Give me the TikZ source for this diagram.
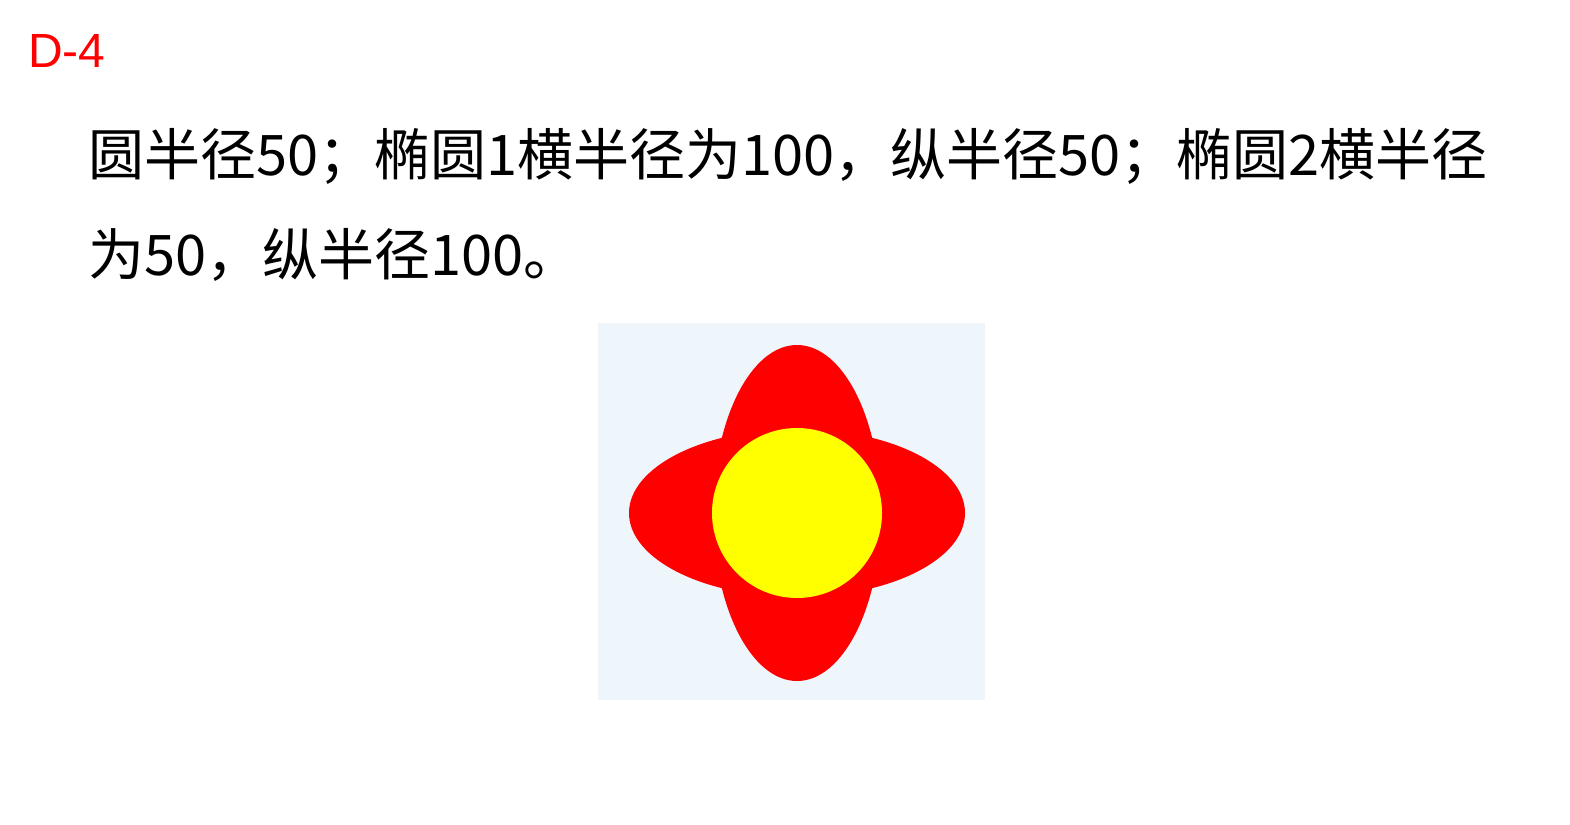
\documentclass[tikz,border=0pt]{standalone}
\usepackage{fontspec}
\usepackage{xcolor}
\usepackage{tikz}
\usetikzlibrary{positioning}
\setmainfont{Liberation Sans}
\newfontfamily\cjkfont{Noto Sans CJK SC}
\definecolor{boxblue}{RGB}{238,245,251}
\definecolor{petalred}{RGB}{255,0,0}
\definecolor{coreyellow}{RGB}{255,255,0}

\begin{document}
\begin{tikzpicture}[x=1pt, y=-1pt]
    \tikzstyle{tag} = [inner sep=0pt, anchor=base west, text=red, font=\fontsize{48}{52}\selectfont]
    \tikzstyle{para} = [inner sep=0pt, anchor=base west, font=\cjkfont\fontsize{56}{60}\selectfont]
    \tikzstyle{petal} = [fill=petalred]

    \useasboundingbox (0,0) rectangle (1570,824);

    % title and description
    \node [tag] (title) at (28,68) {D-4};
    \node [para] (line1) at (88,175) {圆半径50；椭圆1横半径为100，纵半径50；椭圆2横半径};
    \node [para] (line2) at (88,275) {为50，纵半径100。};

    % the figure
    \fill [boxblue] (598,323) rectangle (985,700);
    \coordinate (c) at (797,513);
    \fill [petal] (c) ellipse [x radius=168pt, y radius=84pt];
    \fill [petal] (c) ellipse [x radius=84pt, y radius=168pt];
    \fill [coreyellow] (c) circle [radius=85pt];
\end{tikzpicture}
\end{document}
